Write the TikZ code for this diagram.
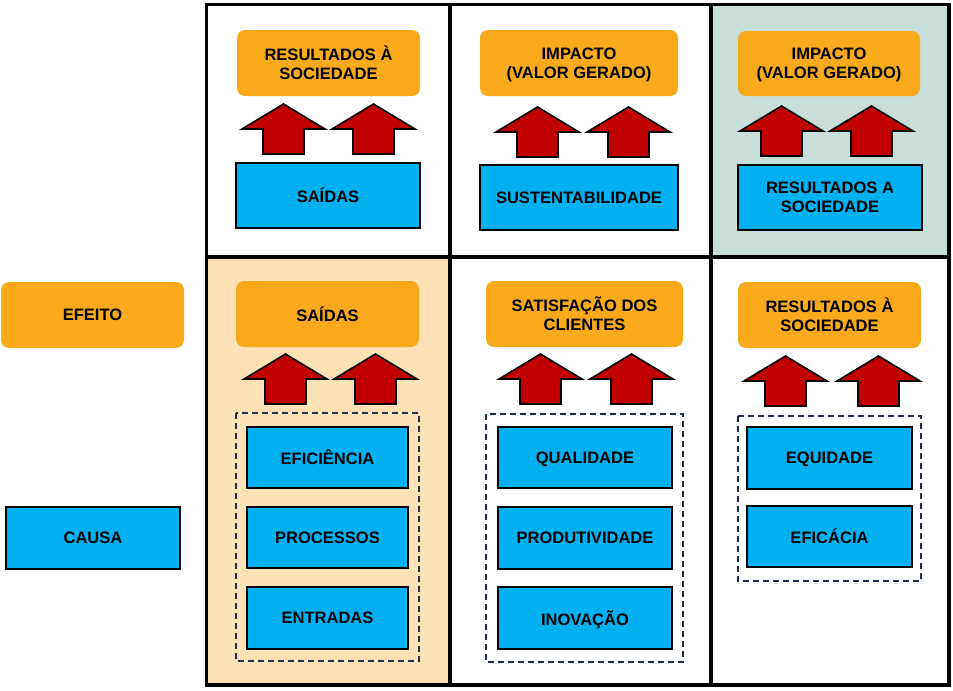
\documentclass[tikz,border=0pt]{standalone}
\usepackage{fontspec}
\setmainfont{Liberation Sans}
\definecolor{orng}{HTML}{F9A91C}
\definecolor{blu}{HTML}{00B0F0}
\definecolor{redarr}{HTML}{C00000}
\definecolor{tealbg}{HTML}{C9DED9}
\definecolor{peachbg}{HTML}{FFE1B6}
\definecolor{navy}{HTML}{1F2D4A}
\tikzset{
  txt/.style={font=\fontsize{12.4}{14.3}\selectfont\bfseries, align=center, text=black, inner sep=0pt, text depth=0pt},
  obox/.style={txt, fill=orng, rounded corners=6pt},
  bbox/.style={txt, fill=blu, draw=black, line width=0.8pt},
  dbox/.style={draw=navy, line width=1.7pt, dash pattern=on 4.6pt off 2.9pt},
  uparrow/.style={fill=redarr, draw=black, line width=1.2pt, line join=miter},
  gridline/.style={draw=black, line width=2.7pt},
}
% \bx{name}{style}{x1}{y1}{x2}{y2}{text}
\newcommand{\bx}[7]{%
  \node[#2, minimum width={(#5-#3)*0.75pt}, minimum height={(#6-#4)*0.75pt}] (#1) at ({(#3+#5)/2},{(#4+#6)/2}) {#7};}
% \uparr{left}{tip y}
\newcommand{\uparr}[2]{%
  \draw[uparrow] (#1,#2+25) -- (#1+41.5,#2) -- (#1+83,#2+25) -- (#1+62,#2+25) -- (#1+62,#2+50) -- (#1+21,#2+50) -- (#1+21,#2+25) -- cycle;}
\begin{document}
\begin{tikzpicture}[x=0.75pt,y=-0.75pt]
\useasboundingbox (0,0) rectangle (953,690);
% cell backgrounds
\fill[tealbg] (711,4.5) rectangle (949,257);
\fill[peachbg] (206.5,257) rectangle (450,685);
% grid
\draw[gridline] (206.5,4.5) rectangle (949,685);
\draw[gridline] (450,4.5) -- (450,685);
\draw[gridline] (711,4.5) -- (711,685);
\draw[gridline] (206.5,257) -- (949,257);
% left labels
\bx{efeito}{obox}{1}{282}{184}{348}{EFEITO}
\bx{causa}{bbox}{6}{507}{180}{569}{CAUSA}
% top row
\bx{o11}{obox}{237}{30}{420}{96}{RESULTADOS À\\SOCIEDADE}
\bx{o12}{obox}{480}{30}{678}{96}{IMPACTO\\(VALOR GERADO)}
\bx{o13}{obox}{738}{31}{920}{96}{IMPACTO\\(VALOR GERADO)}
\bx{b11}{bbox}{236}{163}{420}{228}{SAÍDAS}
\bx{b12}{bbox}{480}{165}{678}{230}{SUSTENTABILIDADE}
\bx{b13}{bbox}{738}{165}{922}{230}{RESULTADOS A\\SOCIEDADE}
\uparr{242}{104}\uparr{332}{104}
\uparr{496}{107}\uparr{587}{107}
\uparr{740}{106}\uparr{830}{106}
% bottom row
\bx{o21}{obox}{236}{281}{419}{347}{SAÍDAS}
\bx{o22}{obox}{486}{281}{683}{347}{SATISFAÇÃO DOS\\CLIENTES}
\bx{o23}{obox}{738}{282}{921}{348}{RESULTADOS À\\SOCIEDADE}
\uparr{244}{354}\uparr{334}{354}
\uparr{499}{354}\uparr{590}{354}
\uparr{744}{356}\uparr{837}{356}
\draw[dbox] (236,413) rectangle (419,661);
\draw[dbox] (486,414) rectangle (683,662);
\draw[dbox] (738,416) rectangle (921,581);
\bx{b21}{bbox}{247}{427}{408}{488}{EFICIÊNCIA}
\bx{b22}{bbox}{247}{507}{408}{568}{PROCESSOS}
\bx{b23}{bbox}{247}{587}{408}{649}{ENTRADAS}
\bx{b31}{bbox}{498}{427}{672}{488}{QUALIDADE}
\bx{b32}{bbox}{498}{507}{672}{569}{PRODUTIVIDADE}
\bx{b33}{bbox}{498}{587}{672}{649}{INOVAÇÃO}
\bx{b41}{bbox}{747}{427}{912}{489}{EQUIDADE}
\bx{b42}{bbox}{747}{506}{912}{567}{EFICÁCIA}
\end{tikzpicture}
\end{document}
